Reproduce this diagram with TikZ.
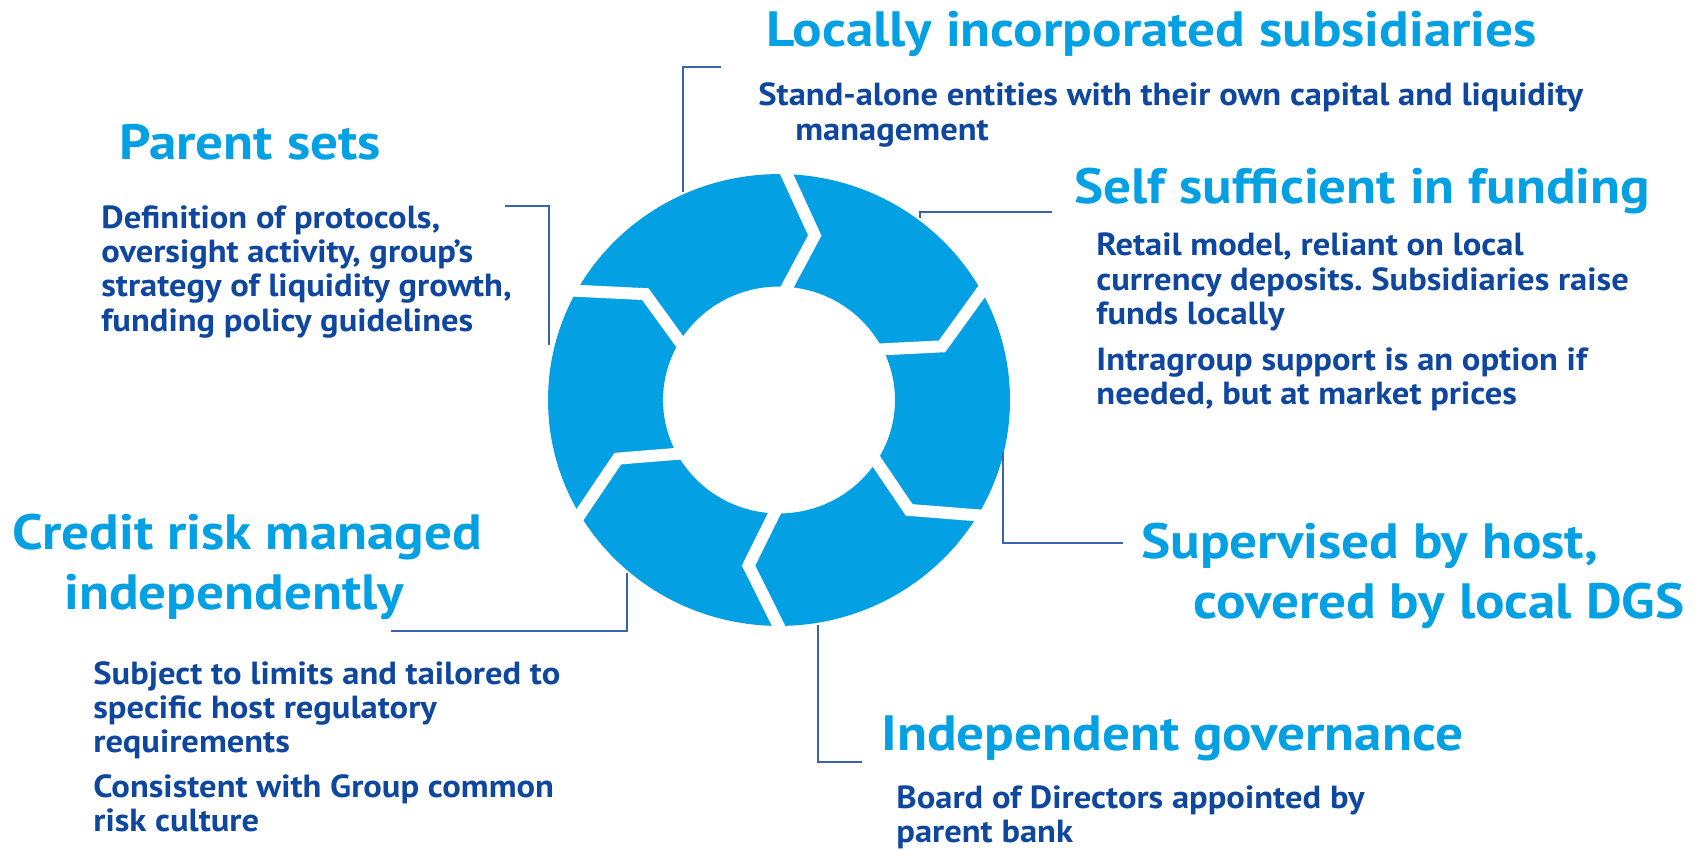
\documentclass[tikz,border=0pt]{standalone}
\usepackage{fontspec}
\setmainfont{PT Sans}
\newfontfamily\titlefam{PT Sans}[FakeStretch=1.11]
\newfontfamily\bodyfam{PT Sans}[FakeStretch=1.08]
\definecolor{ringblue}{HTML}{03A0E3}
\definecolor{txtblue}{HTML}{0F479E}
\definecolor{lineblue}{HTML}{3A64AE}
\frenchspacing
\tikzset{
  titletext/.style={font=\titlefam\bfseries\fontsize{24.8pt}{30pt}\selectfont, text=ringblue, inner sep=0pt, anchor=base west},
  bodytext/.style={font=\bodyfam\bfseries\fontsize{16pt}{17.2pt}\selectfont, text=txtblue, inner sep=0pt, anchor=base west},
  conn/.style={draw=lineblue, line width=0.8pt},
  gapline/.style={draw=white, line width=6pt, miter limit=10},
}
\begin{document}
\begin{tikzpicture}[x=0.5pt,y=-0.5pt]
\useasboundingbox (0,0) rectangle (1695,850);
\fill[white] (0,0) rectangle (1695,850);
% ring
\begin{scope}[shift={(779,400)}, yscale=0.978]
  \fill[ringblue, even odd rule] (0,0) circle (231) (0,0) circle (116);
  \foreach \a in {-90,-30.6,28.8,88.2,147.6,207}{
    \draw[gapline] (\a:248) -- (\a+12:172) -- (\a:100);
  }
\end{scope}
% titles
\node[titletext] (loc) at (766,47) {Locally incorporated subsidiaries};
\node[titletext] (par) at (119,160) {Parent sets};
\node[titletext] (self) at (1074,204) {Self sufficient in funding};
\node[titletext] (sup) at (1141,558) {\vtop{\hbox{Supervised by host,}\hbox{\hspace*{26pt}covered by local DGS}}};
\node[titletext] (ind) at (881,750) {Independent governance};
\node[titletext] (cre) at (12,549) {\vtop{\hbox{Credit risk managed}\hbox{\hspace*{26pt}independently}}};
% body texts
\node[bodytext] (locb) at (758,106) {\vtop{\hbox{Stand-alone entities with their own capital and liquidity}\hbox{\hspace*{18.5pt}management}}};
\node[bodytext] (parb) at (101,228) {\vtop{\hbox{Definition of protocols,}\hbox{oversight activity, group’s}\hbox{strategy of liquidity growth,}\hbox{funding policy guidelines}}};
\node[bodytext] (selfb) at (1096,256) {\vtop{\hbox{Retail model, reliant on local}\hbox{currency deposits. Subsidiaries raise}\hbox{funds locally}\vskip 5.5pt\hbox{Intragroup support is an option if}\hbox{needed, but at market prices}}};
\node[bodytext] (indb) at (896,808) {\vtop{\hbox{Board of Directors appointed by}\hbox{parent bank}}};
\node[bodytext] (creb) at (93,684) {\vtop{\hbox{Subject to limits and tailored to}\hbox{specific host regulatory}\hbox{requirements}\vskip 5pt\hbox{Consistent with Group common}\hbox{risk culture}}};
% connectors
\coordinate (r1) at (683,192); \coordinate (e1) at (721,67);
\coordinate (r2) at (549,345); \coordinate (e2) at (505,206);
\coordinate (r3) at (920,218); \coordinate (e3) at (1052,212);
\coordinate (r4) at (1003,452); \coordinate (e4) at (1123,543);
\coordinate (r5) at (818,625); \coordinate (e5) at (862,762);
\coordinate (r6) at (627,573); \coordinate (e6) at (391,631);
\draw[conn] (r1) |- (e1);
\draw[conn] (r2) |- (e2);
\draw[conn] (r3) |- (e3);
\draw[conn] (r4) |- (e4);
\draw[conn] (r5) |- (e5);
\draw[conn] (r6) |- (e6);
\end{tikzpicture}
\end{document}
